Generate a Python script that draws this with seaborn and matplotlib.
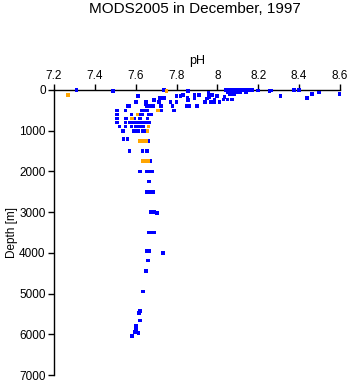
import matplotlib
matplotlib.use("Agg")
import matplotlib.pyplot as plt
import seaborn as sns
import pandas as pd

title = "MODS2005 in December, 1997"
x_ticks = [7.2, 7.4, 7.6, 7.8, 8.0, 8.2, 8.4, 8.6]
x_tick_labels = ["7.2", "7.4", "7.6", "7.8", "8", "8.2", "8.4", "8.6"]
y_ticks = [0, 1000, 2000, 3000, 4000, 5000, 6000, 7000]

blue_ph = [7.31, 7.49, 7.74, 7.857, 8.04, 8.05, 8.06, 8.07, 8.08, 8.09, 8.10, 8.11, 8.12, 8.14, 8.15, 8.16, 8.17,
           8.20, 8.255, 8.265, 8.375, 8.40, 8.464, 8.496, 8.597, 8.308, 8.437,
           8.05, 8.07, 8.09, 8.11, 8.14, 8.06, 8.07, 8.08,
           7.61, 7.65, 7.65, 7.69, 7.72, 7.74, 7.80, 7.833, 7.82, 7.887, 7.91, 7.957, 7.975, 7.999, 7.96,
           7.854, 7.887, 7.95, 7.857, 8.034, 8.03, 8.05, 8.07, 7.60, 7.715, 7.77, 7.80, 7.94, 7.97, 7.985,
           8.01, 7.985,
           7.56, 7.57, 7.654, 7.67, 7.686, 7.725, 7.78, 7.85, 7.86, 7.90,
           7.51, 7.55, 7.63, 7.64, 7.657, 7.724, 7.79, 7.785,
           7.51, 7.58, 7.62, 7.634, 7.662, 7.678,
           7.51, 7.552, 7.59, 7.62, 7.657,
           7.51, 7.55, 7.572, 7.59, 7.61, 7.63, 7.645, 7.666,
           7.52, 7.55, 7.58, 7.60, 7.62, 7.637,
           7.54, 7.535, 7.59, 7.61, 7.634, 7.64,
           7.54, 7.56, 7.642, 7.66,
           7.57, 7.634, 7.654,
           7.67,
           7.62, 7.654, 7.665, 7.68,
           7.665, 7.655, 7.67, 7.685, 7.675, 7.69, 7.705, 7.665, 7.68, 7.69, 7.655, 7.665, 7.735,
           7.66, 7.65, 7.637, 7.62, 7.616, 7.62, 7.60, 7.60, 7.595, 7.613, 7.583]
blue_depth = [0, 30, 0, 30, 0, 0, 0, 0, 0, 0, 0, 0, 0, 0, 0, 0, 0,
              10, 20, 10, 0, 0, 100, 60, 100, 150, 200,
              50, 50, 50, 50, 60, 100, 100, 100,
              150, 280, 350, 250, 190, 190, 140, 115, 140, 115, 115, 80, 115, 140, 180,
              190, 190, 210, 250, 180, 230, 230, 230, 300, 300, 300, 300, 300, 300, 300,
              300, 250,
              400, 400, 400, 400, 400, 400, 400, 400, 400, 400,
              500, 500, 500, 500, 500, 500, 500, 500,
              600, 600, 600, 600, 600, 600,
              700, 700, 700, 700, 700,
              800, 800, 800, 800, 800, 800, 800, 800,
              900, 900, 900, 900, 900, 900,
              1000, 1000, 1000, 1000, 1000, 1000,
              1200, 1200, 1250, 1250,
              1500, 1500, 1500,
              1750,
              2000, 2000, 2000, 2000,
              2250, 2500, 2500, 2500, 3000, 3000, 3020, 3500, 3500, 3500, 3960, 3960, 4010,
              4190, 4450, 4950, 5430, 5470, 5660, 5790, 5900, 5950, 5970, 6050]

orange_ph = [7.27, 7.75, 7.71, 7.608, 7.583, 7.662, 7.657, 7.62, 7.635, 7.65, 7.637, 7.65, 7.662]
orange_depth = [120, 20, 500, 600, 700, 900, 1000, 1250, 1250, 1250, 1750, 1750, 1750]

df = pd.DataFrame({
    "pH": blue_ph + orange_ph,
    "Depth": blue_depth + orange_depth,
    "group": ["b"] * len(blue_ph) + ["o"] * len(orange_ph),
})

sns.set_style("ticks")
plt.rcParams["font.family"] = ["Liberation Sans", "DejaVu Sans"]

fig = plt.figure(figsize=(3.5, 3.84), dpi=100)
ax = fig.add_axes([54 / 350, 1 - 375 / 384, (340 - 54) / 350, (375 - 90) / 384])

sns.scatterplot(data=df, x="pH", y="Depth", hue="group",
                palette={"b": "#0000ff", "o": "#ffa500"},
                marker="s", s=7, linewidth=0, legend=False, ax=ax,
                clip_on=False, zorder=5)

ax.set_xlim(7.2, 8.6)
ax.set_ylim(7000, 0)
ax.xaxis.set_ticks_position("top")
ax.xaxis.set_label_position("top")
ax.set_xticks(x_ticks)
ax.set_xticklabels(x_tick_labels)
ax.set_yticks(y_ticks)
ax.tick_params(axis="both", labelsize=8.5, direction="out", length=4, width=1,
               color="black", labelcolor="black", pad=2)
ax.set_xlabel("pH", fontsize=9, labelpad=4, color="black")
ax.set_ylabel("Depth [m]", fontsize=8.5, labelpad=1, color="black")
for side in ["bottom", "right"]:
    ax.spines[side].set_visible(False)
for side in ["top", "left"]:
    ax.spines[side].set_linewidth(1)
    ax.spines[side].set_color("black")
ax.grid(False)

fig.text(195 / 350, 1 - 9 / 384, title, ha="center", va="center", fontsize=11, color="black")

fig.savefig("out.png", dpi=100)
